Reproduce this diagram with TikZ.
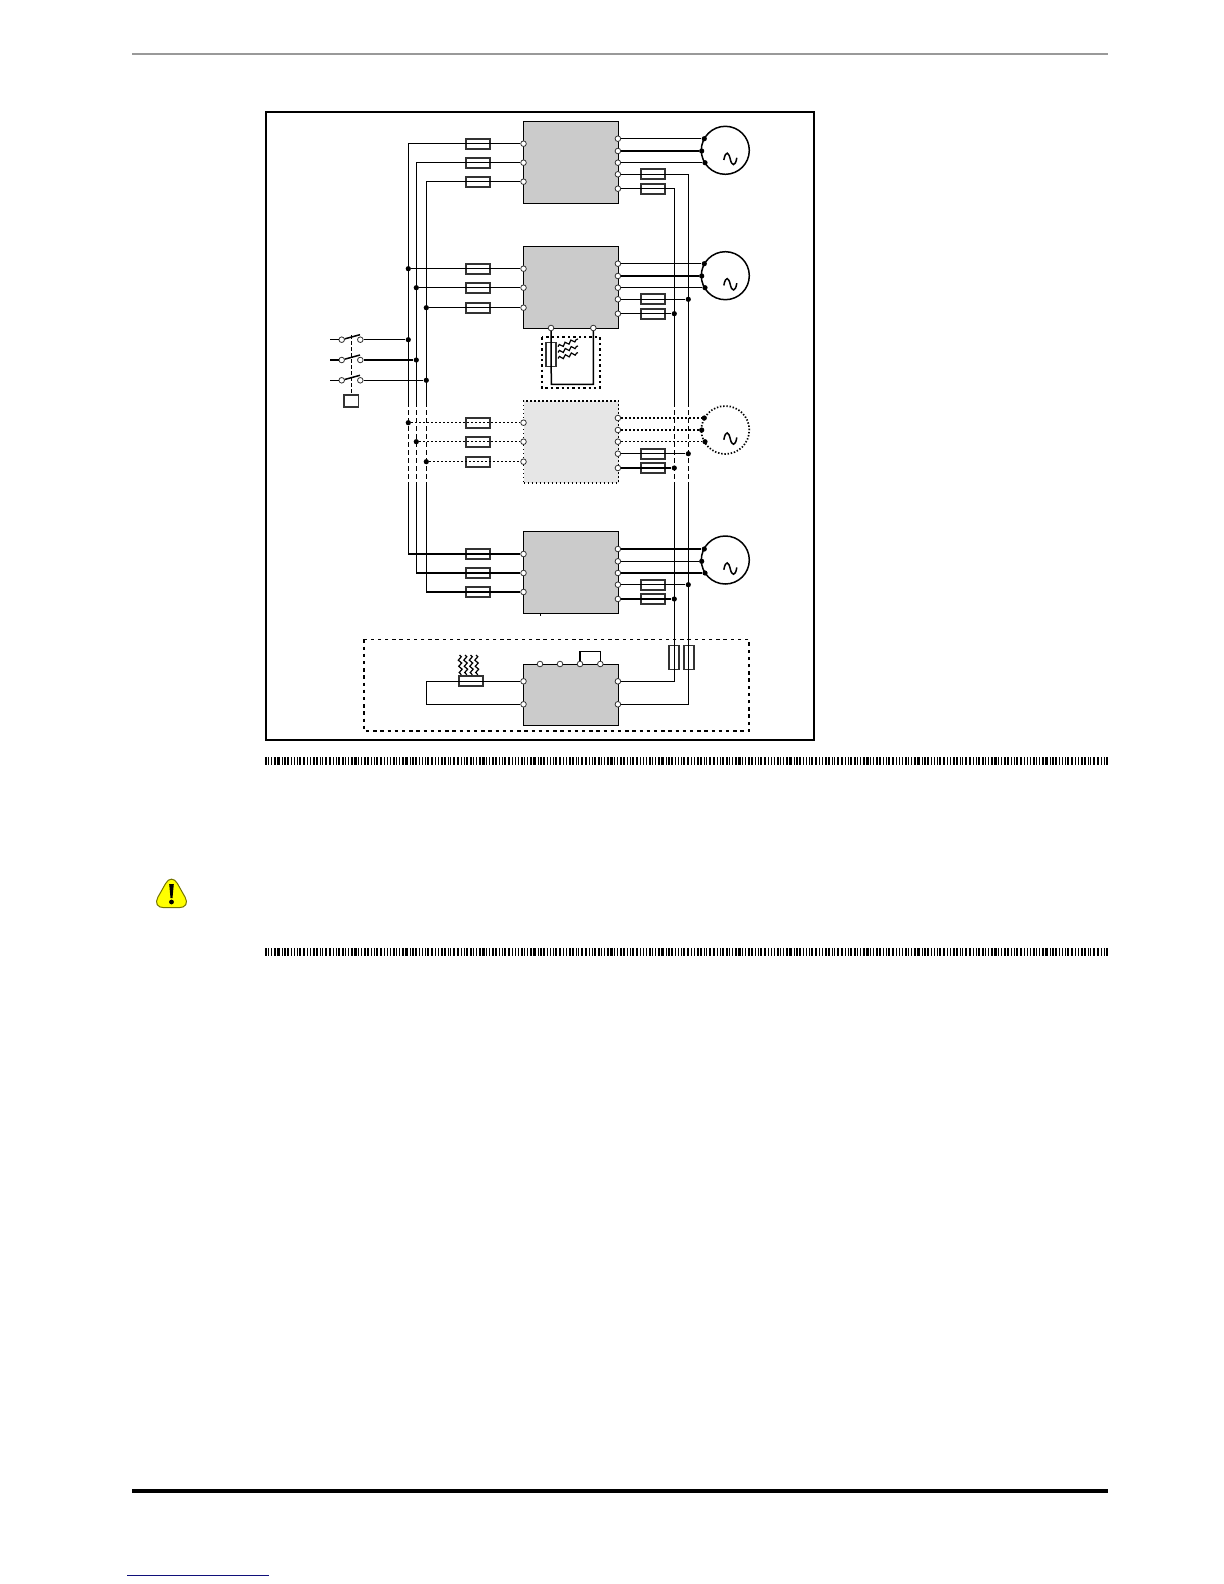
\documentclass[tikz,border=0pt]{standalone}
\usetikzlibrary{decorations.pathmorphing}
\definecolor{blockgrey}{HTML}{CBCBCB}
\definecolor{ghostgrey}{HTML}{E6E6E6}
\definecolor{rulegrey}{HTML}{999999}
\definecolor{linkblue}{HTML}{10107A}
\definecolor{warnyellow}{HTML}{FFFF00}
\tikzset{
  wire/.style={line width=0.75pt},
  dotwire/.style={line width=0.75pt,dash pattern=on 0.7pt off 1.3pt},
  dashwire/.style={line width=0.75pt,dash pattern=on 2.4pt off 1.6pt},
  term/.style={circle,draw=black!80,fill=white,line width=0.4pt,inner sep=0pt,minimum size=2.8pt},
  jdot/.style={circle,fill=black,inner sep=0pt,minimum size=2.6pt},
  hfuse/.style={rectangle,draw=black!80,line width=0.85pt,inner sep=0pt,minimum width=12pt,minimum height=5pt},
  vfuse/.style={rectangle,draw=black!80,line width=0.85pt,inner sep=0pt,minimum width=5pt,minimum height=12pt},
  block/.style={rectangle,draw=black,fill=blockgrey,line width=0.7pt,inner sep=0pt,minimum width=47.5pt,minimum height=41pt},
  ghost/.style={rectangle,draw=black,fill=ghostgrey,line width=0.7pt,dash pattern=on 0.7pt off 1.3pt,inner sep=0pt,minimum width=47.5pt,minimum height=41pt},
  motor/.style={circle,draw=black,line width=0.75pt,inner sep=0pt,minimum size=24pt},
  ghostmotor/.style={circle,draw=black,line width=0.85pt,dash pattern=on 0.7pt off 0.9pt,inner sep=0pt,minimum size=24pt},
  relbox/.style={rectangle,draw=black!80,line width=0.75pt,inner sep=0pt,minimum width=7.4pt,minimum height=6pt},
  squig/.style={line width=0.6pt,decorate,decoration={snake,segment length=3.1pt,amplitude=0.8pt}},
  barcode/.style={line width=4pt,dash pattern=on 0.9pt off 0.8pt on 0.5pt off 0.9pt on 0.5pt off 0.8pt on 1pt off 0.8pt on 1.2pt off 0.9pt on 0.5pt off 0.9pt on 0.6pt off 0.8pt on 0.9pt off 0.8pt},
  tilde/.pic={\draw[line width=0.75pt] (-1.5,9.7) .. controls (0.5,-0.5) and (3.5,2) .. (5,9) .. controls (6.4,15.5) and (10,17) .. (11.5,7.5);}
}
\begin{document}
\begin{tikzpicture}[x=0.5pt,y=-0.5pt]
\useasboundingbox (0,0) rectangle (1224,1584);
% page furniture
\draw[rulegrey,line width=1pt] (132,54) -- (1108,54);
\draw[black,line width=2pt] (132,1490.7) -- (1108,1490.7);
\draw[linkblue,line width=0.6pt] (127,1575.3) -- (269,1575.3);
\draw[barcode] (265,761) -- (1108,761);
\draw[barcode] (265,952) -- (1108,952);
% warning sign
\draw[fill=warnyellow,draw=black!55!warnyellow,line width=0.5pt,rounded corners=6pt] (171.5,873) -- (191,907.7) -- (152,907.7) -- cycle;
\fill (169.2,884) -- (173.8,884) -- (172.5,898) -- (170.5,898) -- cycle;
\fill (171.5,902) circle (2.4);
% frame and dashed option boxes
\draw[line width=1pt] (265.7,112.3) rectangle (814,740);
\draw[line width=0.8pt,dash pattern=on 1.7pt off 1.9pt] (363.7,639.3) rectangle (749,730.7);
\draw[line width=1pt,dash pattern=on 1.2pt off 1.5pt] (541.7,337.3) rectangle (600,387.7);
% reference coordinates for the buses
\coordinate (busA) at (408.3,0);
\coordinate (busB) at (416.3,0);
\coordinate (busC) at (426.3,0);
\coordinate (busD) at (674.3,0);
\coordinate (busE) at (688.3,0);
\coordinate (gapT) at (0,402);
\coordinate (gapB) at (0,486);
% drives
\node[block] (D1) at (571,162.3) {};
\node[block] (D2) at (571,287.3) {};
\node[ghost] (D3) at (571,441.8) {};
\node[block] (D4) at (571,572.3) {};
\node[block,minimum height=30.5pt] (D5) at (571,694.8) {};
\draw[line width=0.3pt] (540.3,613.3) -- (540.3,616);
% terminals, fuses, motors per drive
\foreach \k/\ya/\yb/\yc in {1/143.7/162.7/181.7,2/268.7/287.7/307.7,3/422.7/441.7/461.7,4/554/573/592}{
  \node[term] (La\k) at (523.5,\ya) {};
  \node[term] (Lb\k) at (523.5,\yb) {};
  \node[term] (Lc\k) at (523.5,\yc) {};
  \node[hfuse] (Fa\k) at (478.2,\ya) {};
  \node[hfuse] (Fb\k) at (478.2,\yb) {};
  \node[hfuse] (Fc\k) at (478.2,\yc) {};
}
\foreach \k/\ya/\yb/\yc/\yd/\ye/\ym in {1/138.7/151/162.7/174.3/188.7/150.3,2/263.7/276/287.7/299.3/313.7/275.7,3/418/430/441.7/453.7/468/430,4/549/561.3/573/584.7/599/560}{
  \node[term] (Ra\k) at (617.9,\ya) {};
  \node[term] (Rb\k) at (617.9,\yb) {};
  \node[term] (Rc\k) at (617.9,\yc) {};
  \node[term] (Rd\k) at (617.9,\yd) {};
  \node[term] (Re\k) at (617.9,\ye) {};
  \node[hfuse] (Fd\k) at (653.3,\yd) {};
  \node[hfuse] (Fe\k) at (653.3,\ye) {};
  \coordinate (Mc\k) at (725.3,\ym);
  \node[jdot] (Ma\k) at (704.3,\ya) {};
  \node[jdot] (Mb\k) at (701.7,\yb) {};
  \node[jdot] (Mm\k) at (705,\yc) {};
  \pic at (Mc\k) {tilde};
}
\node[motor] (M1) at (Mc1) {};
\node[motor] (M2) at (Mc2) {};
\node[ghostmotor] (M3) at (Mc3) {};
\node[motor] (M4) at (Mc4) {};
% motor leads
\foreach \k/\st in {1/wire,2/wire,3/dotwire,4/wire}{
  \draw[\st] (Ra\k) -- (Ma\k);
  \draw[\st] (Rb\k) -- (Mb\k);
  \draw[\st] (Rc\k) -- (Mm\k);
}
% left bus
\foreach \bus/\ltr in {busA/a,busB/b,busC/c}{
  \draw[wire] (L\ltr1) -| (\bus |- gapT);
  \draw[dashwire] (\bus |- gapT) -- (\bus |- gapB);
  \draw[wire] (\bus |- gapB) |- (L\ltr4);
}
% tap-offs left
\node[jdot] (Ja2) at (408.3,268.7) {};
\node[jdot] (Jb2) at (416.3,287.7) {};
\node[jdot] (Jc2) at (426.3,307.7) {};
\node[jdot] (Ja3) at (408.3,422.7) {};
\node[jdot] (Jb3) at (416.3,441.7) {};
\node[jdot] (Jc3) at (426.3,461.7) {};
\foreach \ltr in {a,b,c}{
  \draw[wire] (J\ltr2) -- (L\ltr2);
  \draw[dotwire] (J\ltr3) -- (L\ltr3);
}
% right bus
\node[term] (Xa) at (617.9,681.3) {};
\node[term] (Xb) at (617.9,704.3) {};
\node[vfuse] (Vd) at (674.3,657.5) {};
\node[vfuse] (Ve) at (688.7,657.5) {};
\draw[wire] (Rd1) -| (busE |- gapT);
\draw[dashwire] (busE |- gapT) -- (busE |- gapB);
\draw[wire] (busE |- gapB) |- (Xb);
\draw[wire] (Re1) -| (busD |- gapT);
\draw[dashwire] (busD |- gapT) -- (busD |- gapB);
\draw[wire] (busD |- gapB) |- (Xa);
\foreach \k/\yd/\ye in {2/299.3/313.7,3/453.7/468,4/584.7/599}{
  \node[jdot] (Jd\k) at (688.3,\yd) {};
  \node[jdot] (Je\k) at (674.3,\ye) {};
  \draw[wire] (Rd\k) -- (Jd\k);
  \draw[wire] (Re\k) -- (Je\k);
}
% mains switches
\foreach \k/\y/\bus in {a/339.7/busA,b/360/busB,c/380.3/busC}{
  \coordinate (In\k) at (330,\y);
  \node[term] (Sl\k) at (341.7,\y) {};
  \node[term] (Sr\k) at (360.3,\y) {};
  \node[jdot] (Sj\k) at (\bus |- Sr\k) {};
  \coordinate (Bl\k) at (360,\y-5);
  \draw[wire] (In\k) -- (Sl\k);
  \draw[wire] (Sl\k) -- (Bl\k);
  \draw[wire] (Sr\k) -- (Sj\k);
}
\node[relbox] (K) at (351.3,400.8) {};
\coordinate (Ktop) at (351.3,335);
\draw[wire,dash pattern=on 1.8pt off 1.2pt] (Ktop) -- (K);
% braking resistor on drive 2
\node[term] (Ba) at (551,328) {};
\node[term] (Bb) at (593.3,328) {};
\node[vfuse] (Bf) at (551.3,354.5) {};
\coordinate (Bbl) at (551.3,384.3);
\draw[wire] (Ba) -- (Bbl) -| (Bb);
\draw[squig] (558,346.7) -- (578,339);
\draw[squig] (558,352.5) -- (578,346);
\draw[squig] (558,358.5) -- (578,352.7);
% brake unit
\node[term] (Ya) at (523.5,681.3) {};
\node[term] (Yb) at (523.5,704.3) {};
\node[hfuse] (Yf) at (471.3,681.3) {};
\coordinate (Yl) at (426.3,681.3);
\draw[wire] (Ya) -- (Yl) |- (Yb);
\foreach \n/\x in {1/540,2/560,3/580,4/600.3}{
  \node[term] (T\n) at (\x,664) {};
}
\coordinate (Ltop) at (0,651.7);
\draw[wire] (T3) |- (Ltop -| T4) -- (T4);
\foreach \x in {459.5,465,470.5,476}{
  \draw[squig] (\x,655) -- (\x+1.5,675);
}
\end{tikzpicture}
\end{document}
